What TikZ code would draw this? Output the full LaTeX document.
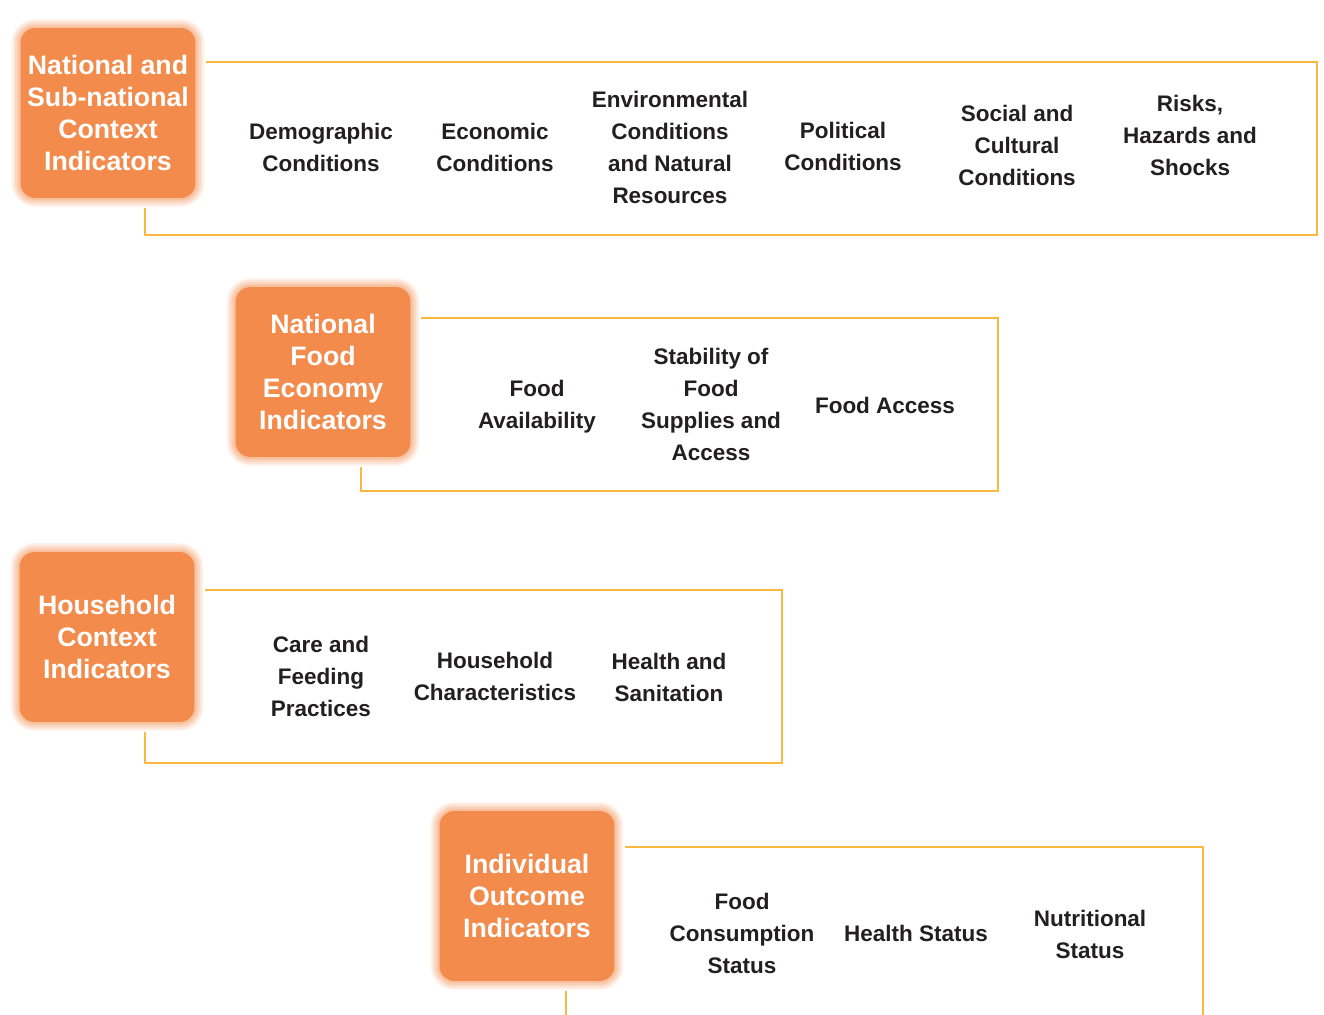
\documentclass[tikz,border=0pt]{standalone}
\usepackage{fontspec}
\setmainfont{Liberation Sans}
\usepackage{tikz}
\usepackage{xcolor}
\usetikzlibrary{positioning}

\definecolor{boxorange}{RGB}{242,139,76}
\definecolor{frameyellow}{RGB}{251,184,64}
\definecolor{labeltext}{RGB}{35,31,32}

\begin{document}
\begin{tikzpicture}[x=0.02cm,y=-0.02cm,
    level/.style={fill=boxorange, rounded corners=0.3cm, text=white,
        minimum width=3.5cm, minimum height=3.4cm, align=center,
        font=\fontsize{15.2}{18.2}\selectfont\bfseries,
        preaction={draw=boxorange, line width=0.36cm, opacity=0.1},
        preaction={draw=boxorange, line width=0.29cm, opacity=0.12},
        preaction={draw=boxorange, line width=0.22cm, opacity=0.14},
        preaction={draw=boxorange, line width=0.15cm, opacity=0.16},
        preaction={draw=boxorange, line width=0.08cm, opacity=0.2}},
    item/.style={text=labeltext, align=center, inner sep=0pt,
        font=\fontsize{12.8}{18.2}\selectfont\bfseries},
    frame/.style={draw=frameyellow, line width=1.4pt,
        shorten <=0.2cm, shorten >=0.2cm}]
        \useasboundingbox (0,0) rectangle (1324,1014);
        % orange level boxes
        \node[level] (nat) at (108,113) {National and\\Sub-national\\Context\\Indicators};
        \node[level] (food) at (323,372) {National\\Food\\Economy\\Indicators};
        \node[level] (hh) at (107,637) {Household\\Context\\Indicators};
        \node[level] (ind) at (527,896) {Individual\\Outcome\\Indicators};
        % frame corners
        \coordinate (nattop) at (1317,62);
        \coordinate (natbot) at (145,235);
        \coordinate (foodtop) at (998,318);
        \coordinate (foodbot) at (361,491);
        \coordinate (hhtop) at (782,590);
        \coordinate (hhbot) at (145,763);
        \coordinate (indtop) at (1203,847);
        \coordinate (indend) at (1203,1030);
        \coordinate (indbot) at (566,1030);
        \draw[frame] (nat.east |- nattop) -- (nattop) |- (natbot) -- (natbot |- nat.south);
        \draw[frame] (food.east |- foodtop) -- (foodtop) |- (foodbot) -- (foodbot |- food.south);
        \draw[frame] (hh.east |- hhtop) -- (hhtop) |- (hhbot) -- (hhbot |- hh.south);
        \draw[frame, shorten >=0pt] (ind.east |- indtop) -- (indtop) -- (indend);
        \draw[frame, shorten <=0pt] (indbot) -- (indbot |- ind.south);
        % national and sub-national items
        \node[item] (demo) at (321,147) {Demographic\\Conditions};
        \node[item] (econ) at (495,147) {Economic\\Conditions};
        \node[item] (env) at (670,147) {Environmental\\Conditions\\and Natural\\Resources};
        \node[item] (pol) at (843,146) {Political\\Conditions};
        \node[item] (soc) at (1017,145) {Social and\\Cultural\\Conditions};
        \node[item] (risk) at (1190,135) {Risks,\\Hazards and\\Shocks};
        % food economy items
        \node[item] (avail) at (537,407) {Food\\Availability};
        \node[item] (stab) at (711,404) {Stability of\\Food\\Supplies and\\Access};
        \node[item] (access) at (885,405) {Food Access};
        % household items
        \node[item] (care) at (321,676) {Care and\\Feeding\\Practices};
        \node[item] (hchar) at (495,676) {Household\\Characteristics};
        \node[item] (sanit) at (669,677) {Health and\\Sanitation};
        % individual items
        \node[item] (cons) at (742,933) {Food\\Consumption\\Status};
        \node[item] (hstat) at (916,933) {Health Status};
        \node[item] (nutr) at (1090,934) {Nutritional\\Status};
\end{tikzpicture}
\end{document}
